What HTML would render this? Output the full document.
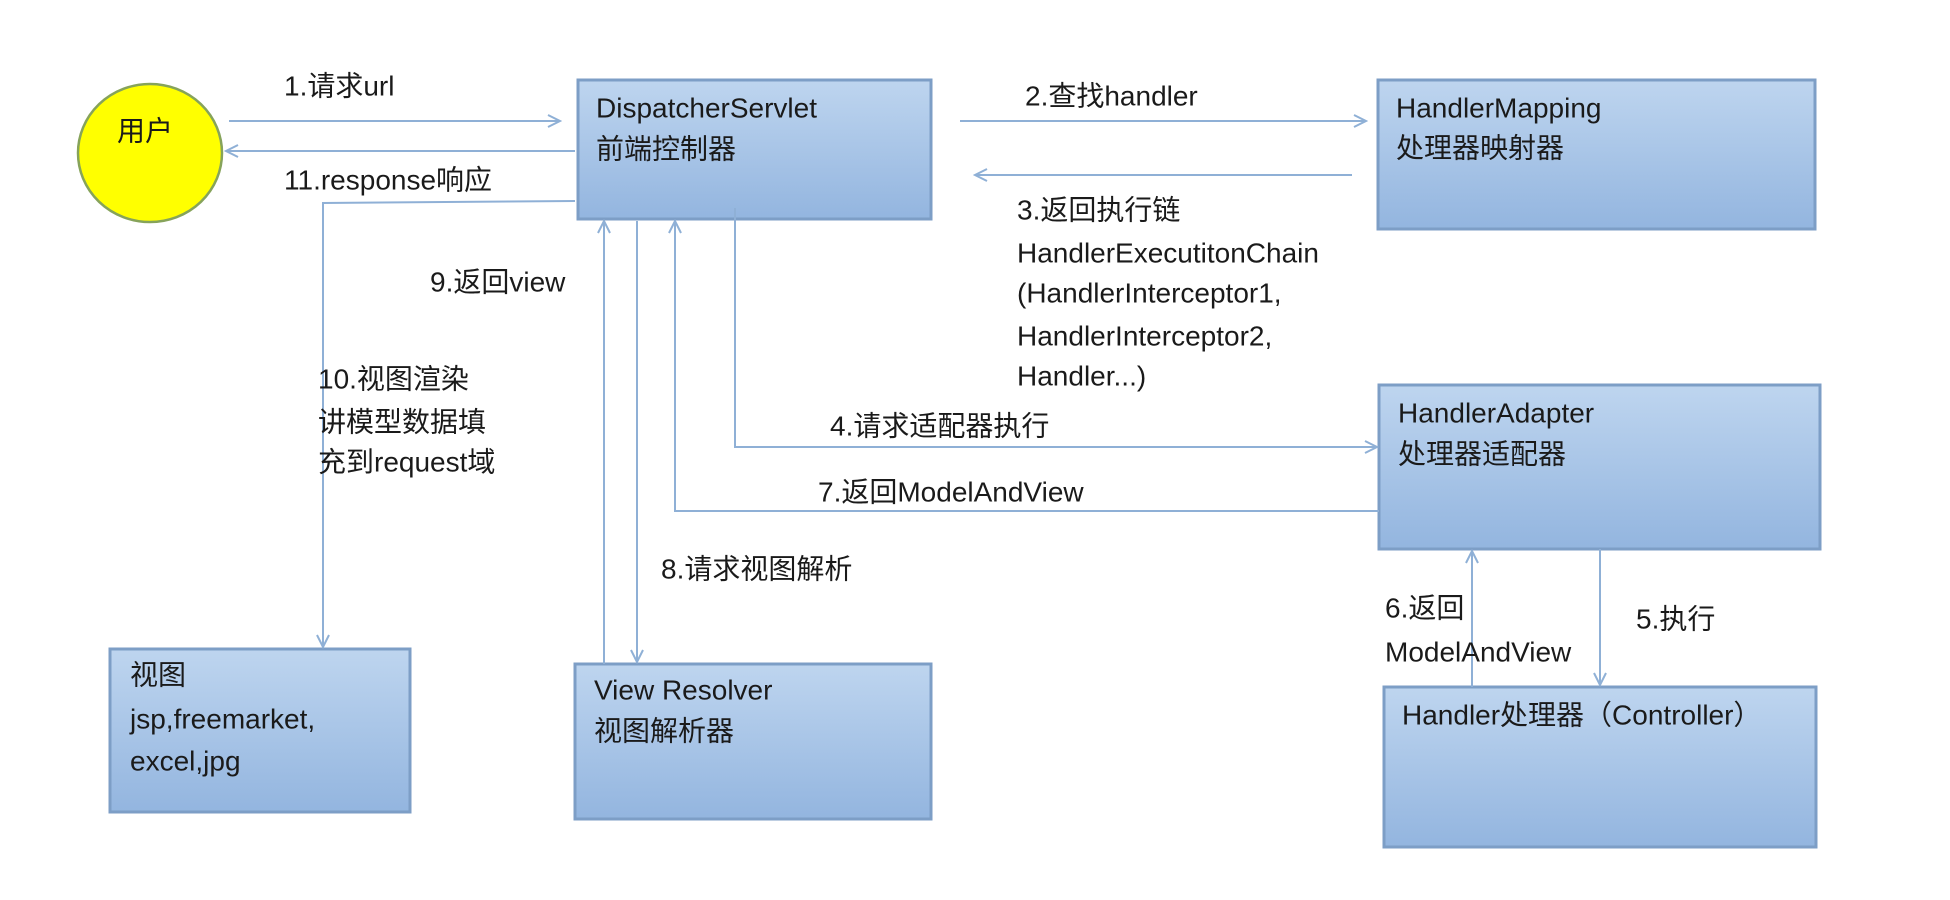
<!DOCTYPE html>
<html><head><meta charset="utf-8"><style>
html,body{margin:0;padding:0;background:#fff;}
svg{display:block;}
text{font-family:"Liberation Sans","Noto Sans CJK SC",sans-serif;font-size:28px;fill:#1a1a1a;dominant-baseline:middle;}
</style></head><body>
<svg width="1950" height="900" viewBox="0 0 1950 900" xmlns="http://www.w3.org/2000/svg">
<defs>
<linearGradient id="g" x1="0" y1="0" x2="0" y2="1">
<stop offset="0" stop-color="#bed5ef"/><stop offset="1" stop-color="#93b5df"/>
</linearGradient>
<marker id="a" markerWidth="16" markerHeight="16" refX="14" refY="8" orient="auto" markerUnits="userSpaceOnUse">
<path d="M2,2 L14,8 L2,14" fill="none" stroke="#8fb0d6" stroke-width="2"/>
</marker>
</defs>
<g stroke="#7d9ec6" stroke-width="3" fill="url(#g)">
<rect x="578" y="80" width="353" height="139"/>
<rect x="1378" y="80" width="437" height="149"/>
<rect x="1379" y="385" width="441" height="164"/>
<rect x="1384" y="687" width="432" height="160"/>
<rect x="110" y="649" width="300" height="163"/>
<rect x="575" y="664" width="356" height="155"/>
</g>
<ellipse cx="150" cy="153" rx="72" ry="69" fill="#ffff00" stroke="#86a35a" stroke-width="2.5"/>
<g stroke="#8fb0d6" stroke-width="2" fill="none">
<line x1="229" y1="121" x2="560" y2="121" marker-end="url(#a)"/>
<line x1="575" y1="151" x2="226" y2="151" marker-end="url(#a)"/>
<polyline points="575,201 323,203 323,647" marker-end="url(#a)"/>
<line x1="604" y1="664" x2="604" y2="221" marker-end="url(#a)"/>
<line x1="637" y1="221" x2="637" y2="662" marker-end="url(#a)"/>
<polyline points="1379,511 675,511 675,221" marker-end="url(#a)"/>
<polyline points="735,208 735,447 1377,447" marker-end="url(#a)"/>
<line x1="960" y1="121" x2="1366" y2="121" marker-end="url(#a)"/>
<line x1="1352" y1="175" x2="975" y2="175" marker-end="url(#a)"/>
<line x1="1472" y1="687" x2="1472" y2="551" marker-end="url(#a)"/>
<line x1="1600" y1="549" x2="1600" y2="685" marker-end="url(#a)"/>
</g>
<text x="117" y="133">用户</text>
<text x="284" y="88">1.请求url</text>
<text x="284" y="182">11.response响应</text>
<text x="596" y="110">DispatcherServlet</text>
<text x="596" y="151">前端控制器</text>
<text x="1025" y="98">2.查找handler</text>
<text x="1396" y="110">HandlerMapping</text>
<text x="1396" y="150">处理器映射器</text>
<text x="1017" y="212">3.返回执行链</text>
<text x="1017" y="255">HandlerExecutitonChain</text>
<text x="1017" y="295">(HandlerInterceptor1,</text>
<text x="1017" y="338">HandlerInterceptor2,</text>
<text x="1017" y="378">Handler...)</text>
<text x="430" y="284">9.返回view</text>
<text x="318" y="381">10.视图渲染</text>
<text x="318" y="424">讲模型数据填</text>
<text x="318" y="464">充到request域</text>
<text x="830" y="428">4.请求适配器执行</text>
<text x="818" y="494">7.返回ModelAndView</text>
<text x="1398" y="415">HandlerAdapter</text>
<text x="1398" y="456">处理器适配器</text>
<text x="661" y="571">8.请求视图解析</text>
<text x="1385" y="610">6.返回</text>
<text x="1385" y="654">ModelAndView</text>
<text x="1636" y="621">5.执行</text>
<text x="130" y="677">视图</text>
<text x="130" y="721">jsp,freemarket,</text>
<text x="130" y="763">excel,jpg</text>
<text x="594" y="692">View Resolver</text>
<text x="594" y="733">视图解析器</text>
<text x="1402" y="717">Handler处理器（Controller）</text>
</svg>
</body></html>
